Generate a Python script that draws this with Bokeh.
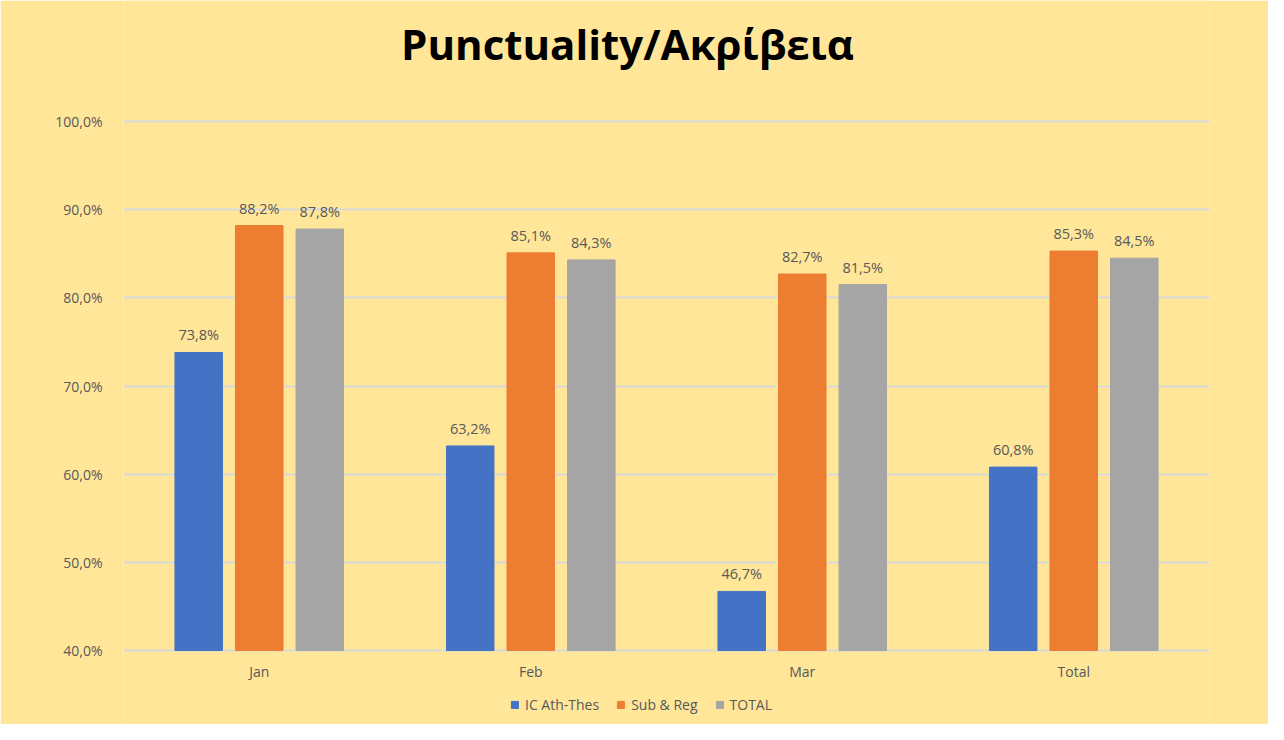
from bokeh.plotting import figure
from bokeh.models import ColumnDataSource, FactorRange, FixedTicker, Label, Legend, LegendItem
from bokeh.transform import dodge
from bokeh.core.properties import value
from bokeh.embed import file_html
from bokeh.resources import INLINE

categories = ["Jan", "Feb", "Mar", "Total"]
ic_ath_thes = [73.8, 63.2, 46.7, 60.8]
sub_reg = [88.2, 85.1, 82.7, 85.3]
total = [87.8, 84.3, 81.5, 84.5]
series_names = ["IC Ath-Thes", "Sub & Reg", "TOTAL"]
y_ticks = [40, 50, 60, 70, 80, 90, 100]
y_tick_labels = ["40,0%", "50,0%", "60,0%", "70,0%", "80,0%", "90,0%", "100,0%"]
title_text = "Punctuality/Ακρίβεια"

colors = ["#4472C4", "#ED7D31", "#A5A5A5"]
BG = "#FFE699"
TXT = "#595959"
FONT = "Open Sans"

def fmt(v):
    return ("%.1f" % v).replace(".", ",") + "%"

src = ColumnDataSource(dict(
    cat=categories,
    ic=ic_ath_thes, sr=sub_reg, tot=total,
    ic_l=[fmt(v) for v in ic_ath_thes],
    sr_l=[fmt(v) for v in sub_reg],
    tot_l=[fmt(v) for v in total],
))

# layout in pixels of the figure
W, H = 1268, 724
LEFT, RIGHT = 123, 59
TOP_PX, BOT_PX = 121, 650          # pixel rows of the top and bottom gridline
lo, hi = y_ticks[0], y_ticks[-1]
ppu = (BOT_PX - TOP_PX) / (hi - lo)
y_start = lo - (H - BOT_PX) / ppu
y_end = hi + TOP_PX / ppu

p = figure(width=W, height=H, x_range=FactorRange(*categories, range_padding=0),
           y_range=(y_start, y_end), output_backend="svg", toolbar_location=None,
           x_axis_location=None,
           min_border_left=LEFT, min_border_right=RIGHT, min_border_top=0, min_border_bottom=0)
p.title = None
p.background_fill_color = BG
p.border_fill_color = BG
p.outline_line_color = None

p.xgrid.grid_line_color = None
p.ygrid.grid_line_color = "#D9D9D9"
p.ygrid.grid_line_width = 2
p.ygrid.ticker = FixedTicker(ticks=y_ticks)
p.yaxis.ticker = FixedTicker(ticks=y_ticks)
p.yaxis.major_label_overrides = {t: l for t, l in zip(y_ticks, y_tick_labels)}
p.yaxis.axis_line_color = None
p.yaxis.major_tick_line_color = None
p.yaxis.minor_tick_line_color = None
p.yaxis.major_label_text_color = TXT
p.yaxis.major_label_text_font = FONT
p.yaxis.major_label_text_font_size = "14px"
p.yaxis.major_label_standoff = 15

bw = 0.175
off = 0.223
renderers = []
for col, lab, d, c in [("ic", "ic_l", -off, colors[0]), ("sr", "sr_l", 0, colors[1]), ("tot", "tot_l", off, colors[2])]:
    r = p.vbar(x=dodge("cat", d, range=p.x_range), top=col, bottom=lo, width=bw, source=src,
               fill_color=c, line_color=c)
    renderers.append(r)
    p.text(x=dodge("cat", d, range=p.x_range), y=col, text=lab, source=src,
           text_align="center", text_baseline="bottom", y_offset=-8,
           text_font=value(FONT), text_font_size="14.5px", text_color=TXT)

# category labels under the baseline
p.text(x="cat", y=lo, text="cat", source=src, text_align="center", text_baseline="top",
       y_offset=11, text_font=value(FONT), text_font_size="14px", text_color=TXT)

legend = Legend(items=[LegendItem(label=n, renderers=[r]) for n, r in zip(series_names, renderers)],
                orientation="horizontal", location=(387, 10),
                background_fill_alpha=0, border_line_color=None,
                label_text_font=FONT, label_text_font_size="14px", label_text_color=TXT,
                glyph_width=9, glyph_height=9, spacing=17, label_standoff=6, padding=0, margin=0)
p.add_layout(legend)

p.add_layout(Label(x=504, y=H - 43, x_units="screen", y_units="screen", text=title_text,
                   text_align="center", text_baseline="middle", text_font=FONT,
                   text_font_style="bold", text_font_size="42px", text_color="#000000"))

open("out.html", "w").write(file_html(p, INLINE))
